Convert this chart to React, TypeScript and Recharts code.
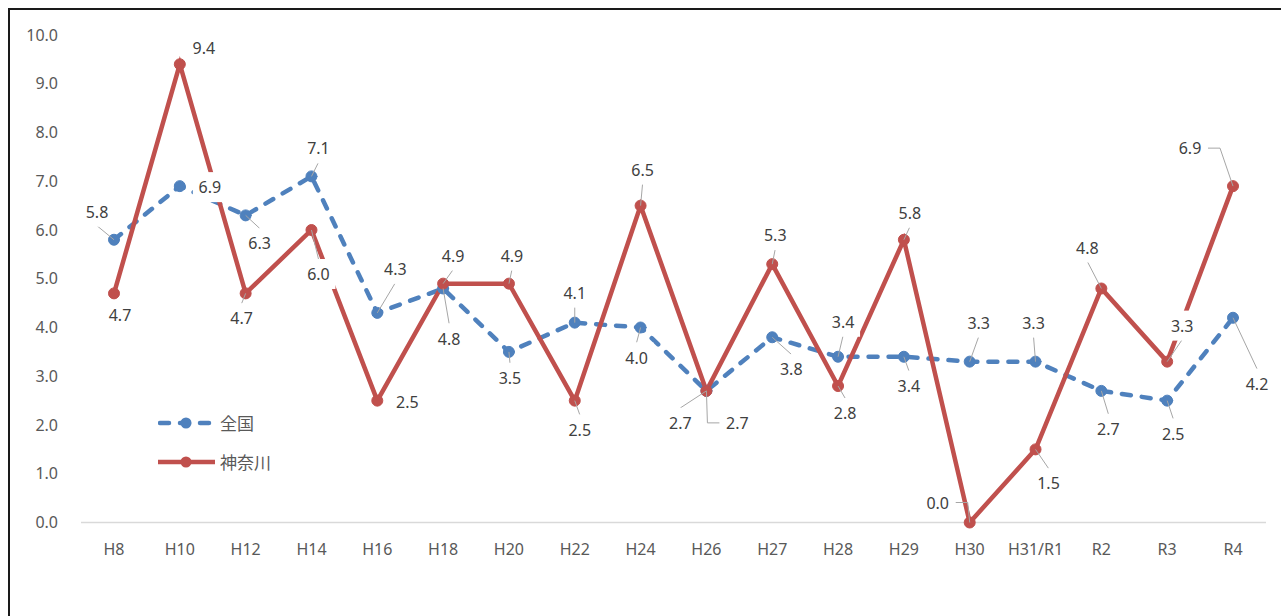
import React from 'react';
import { LineChart, Line, XAxis, YAxis, Legend } from 'recharts';

const years = ['H8', 'H10', 'H12', 'H14', 'H16', 'H18', 'H20', 'H22', 'H24', 'H26', 'H27', 'H28', 'H29', 'H30', 'H31/R1', 'R2', 'R3', 'R4'];
const national = [5.8, 6.9, 6.3, 7.1, 4.3, 4.8, 3.5, 4.1, 4.0, 2.7, 3.8, 3.4, 3.4, 3.3, 3.3, 2.7, 2.5, 4.2];
const kanagawa = [4.7, 9.4, 4.7, 6.0, 2.5, 4.9, 4.9, 2.5, 6.5, 2.7, 5.3, 2.8, 5.8, 0.0, 1.5, 4.8, 3.3, 6.9];
const yTicks = [0, 1, 2, 3, 4, 5, 6, 7, 8, 9, 10];

// label placement: [dx, dy, leader] (0 none, 1 straight, 2 elbow)
const nationalLabelPos = [
  [-17, -28, 1], [30, 1, 0], [14, 28, 1], [7, -28, 1], [18, -44, 1], [6, 50, 1],
  [1, 26, 1], [0, -30, 1], [-4, 30, 1], [-26, 32, 1], [19, 32, 1], [5, -35, 1],
  [5, 29, 1], [9, -39, 1], [-2, -39, 1], [7, 38, 1], [6, 33, 1], [24, 66, 1],
];
const kanagawaLabelPos = [
  [6, 22, 0], [24, -16, 0], [-4, 25, 1], [7, 44, 1], [30, 1, 0], [10, -28, 1],
  [3, -28, 1], [5, 29, 1], [2, -36, 1], [31, 32, 2], [3, -29, 1], [7, 27, 1],
  [6, -27, 1], [-32, -20, 2], [13, 34, 1], [-14, -41, 1], [15, -36, 1], [-43, -38, 2],
];

const data = years.map((year, i) => ({ year, national: national[i], kanagawa: kanagawa[i] }));

const BLUE = '#4F81BD';
const RED = '#C0504D';
const FONT = "'Noto Sans', 'Noto Sans CJK JP', sans-serif";

const makeLabel = (pos: number[][]) => (props: any) => {
  const { x, y, value, index } = props;
  if (x == null || y == null) return null;
  const [dx, dy, mode] = pos[index];
  const lx = x + dx;
  const ly = y + dy;
  let leader = null;
  if (mode === 1) {
    const ey = dy < 0 ? ly + 14 : ly - 15;
    leader = <line x1={x} y1={y} x2={lx} y2={ey} stroke="#A6A6A6" strokeWidth={1} />;
  } else if (mode === 2) {
    const dir = x > lx ? 1 : -1;
    const sx = lx + dir * 18;
    const hx = sx + dir * 12;
    leader = (
      <polyline points={`${sx},${ly} ${hx},${ly} ${x},${y}`} fill="none" stroke="#A6A6A6" strokeWidth={1} />
    );
  }
  return (
    <g key={`lbl-${index}`}>
      {leader}
      <rect x={lx - 17} y={ly - 15} width={34} height={30} fill="#fff" />
      <text x={lx} y={ly} textAnchor="middle" dominantBaseline="central" fontSize={16} fill="#404040" fontFamily={FONT}>
        {Number(value).toFixed(1)}
      </text>
    </g>
  );
};

const LegendBox = () => (
  <div style={{ fontFamily: FONT, fontSize: 17, color: '#595959' }}>
    <div style={{ display: 'flex', alignItems: 'center', height: 39 }}>
      <svg width={62} height={20}>
        <line x1={2} y1={10} x2={56} y2={10} stroke={BLUE} strokeWidth={4.5} strokeDasharray="9 11" strokeLinecap="round" />
        <circle cx={28} cy={10} r={5.5} fill={BLUE} />
      </svg>
      <span>全国</span>
    </div>
    <div style={{ display: 'flex', alignItems: 'center', height: 39 }}>
      <svg width={62} height={20}>
        <line x1={0} y1={10} x2={57} y2={10} stroke={RED} strokeWidth={4.5} />
        <circle cx={28} cy={10} r={5.5} fill={RED} />
      </svg>
      <span>神奈川</span>
    </div>
  </div>
);

export default function App() {
  return (
    <div style={{ position: 'fixed', left: 0, top: 0, width: 1281, height: 616, overflow: 'hidden', background: '#fff', fontFamily: FONT }}>
      <div style={{ position: 'absolute', left: 8, top: 8, width: 1400, height: 800, borderTop: '2px solid #1a1a1a', borderLeft: '2px solid #1a1a1a' }} />
      <div style={{ position: 'absolute', left: 0, top: 0 }}>
        <LineChart width={1281} height={616} data={data} margin={{ top: 35, right: 15, bottom: 63.5, left: 0 }}>
          <XAxis
            dataKey="year"
            interval={0}
            padding={{ left: 33, right: 33 }}
            tickLine={false}
            tickSize={6}
            tickMargin={15}
            axisLine={{ stroke: '#D9D9D9', strokeWidth: 1.5 }}
            tick={{ fill: '#595959', fontSize: 16, fontFamily: FONT }}
          />
          <YAxis
            width={81}
            domain={[0, 10]}
            ticks={yTicks}
            axisLine={false}
            tickLine={false}
            tickSize={0}
            tickMargin={23}
            tickFormatter={(v: number) => v.toFixed(1)}
            tick={{ fill: '#595959', fontSize: 16, fontFamily: FONT }}
          />
          <Legend
            layout="vertical"
            align="center"
            verticalAlign="middle"
            content={<LegendBox />}
            wrapperStyle={{ left: 158, top: 403, width: 160, height: 80 }}
          />
          <Line
            dataKey="national"
            name="全国"
            stroke={BLUE}
            strokeWidth={4.5}
            strokeDasharray="9 11"
            strokeLinecap="round"
            dot={{ r: 5.5, fill: BLUE, stroke: BLUE, strokeWidth: 1, strokeDasharray: 'none' }}
            activeDot={false}
            isAnimationActive={false}
          />
          <Line
            dataKey="kanagawa"
            name="神奈川"
            stroke={RED}
            strokeWidth={4.5}
            dot={{ r: 5.5, fill: RED, stroke: RED, strokeWidth: 1 }}
            activeDot={false}
            isAnimationActive={false}
          />
          <Line
            dataKey="national"
            stroke="none"
            dot={false}
            activeDot={false}
            legendType="none"
            isAnimationActive={false}
            label={makeLabel(nationalLabelPos)}
          />
          <Line
            dataKey="kanagawa"
            stroke="none"
            dot={false}
            activeDot={false}
            legendType="none"
            isAnimationActive={false}
            label={makeLabel(kanagawaLabelPos)}
          />
        </LineChart>
      </div>
    </div>
  );
}
